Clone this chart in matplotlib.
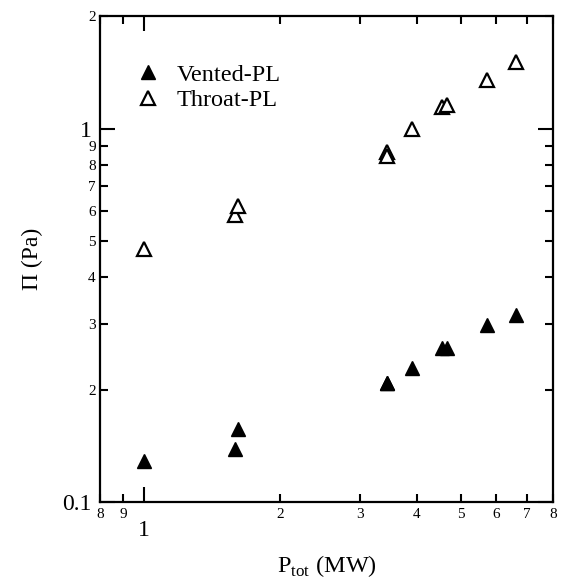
import numpy as np
import matplotlib
matplotlib.use("Agg")
import matplotlib.pyplot as plt
from matplotlib.ticker import FixedLocator, FixedFormatter

plt.rcParams['font.family'] = ['Liberation Serif', 'DejaVu Serif']
plt.rcParams['mathtext.fontset'] = 'custom'
plt.rcParams['mathtext.rm'] = 'Liberation Serif'

# data
p_tot = [1.0, 1.59, 1.61, 3.44, 3.44, 3.91, 4.55, 4.66, 5.72, 6.63]
vented = [0.129, 0.139, 0.157, 0.208, 0.208, 0.228, 0.259, 0.259, 0.298, 0.317]
throat = [0.475, 0.587, 0.62, 0.865, 0.845, 1.0, 1.14, 1.155, 1.35, 1.51]

x_major = [1]
x_major_labels = ["1"]
x_minor = [0.8, 0.9, 2, 3, 4, 5, 6, 7, 8]
x_minor_labels = ["8", "9", "2", "3", "4", "5", "6", "7", "8"]
y_major = [0.1, 1]
y_major_labels = ["0.1", "1"]
y_minor = [0.2, 0.3, 0.4, 0.5, 0.6, 0.7, 0.8, 0.9, 2]
y_minor_labels = ["2", "3", "4", "5", "6", "7", "8", "9", "2"]

fig = plt.figure(figsize=(5.62, 5.79), dpi=100)
ax = fig.add_axes([0.178, 0.133, 0.806, 0.839])

ax.plot(p_tot, vented, linestyle='none', marker='^', ms=9.5, color='black',
        label='Vented-PL')
ax.plot(p_tot, throat, linestyle='none', marker='^', ms=9.5, mfc='white',
        mec='black', mew=1.6, label='Throat-PL')

ax.set_xscale('log')
ax.set_yscale('log')
ax.set_xlim(0.8, 8)
ax.set_ylim(0.1, 2)

ax.xaxis.set_major_locator(FixedLocator(x_major))
ax.xaxis.set_major_formatter(FixedFormatter(x_major_labels))
ax.xaxis.set_minor_locator(FixedLocator(x_minor))
ax.xaxis.set_minor_formatter(FixedFormatter(x_minor_labels))
ax.yaxis.set_major_locator(FixedLocator(y_major))
ax.yaxis.set_major_formatter(FixedFormatter(y_major_labels))
ax.yaxis.set_minor_locator(FixedLocator(y_minor))
ax.yaxis.set_minor_formatter(FixedFormatter(y_minor_labels))

ax.tick_params(which='both', direction='in', top=True, right=True, width=1.5)
ax.tick_params(which='major', length=11, labelsize=17)
ax.tick_params(which='minor', length=5.5, labelsize=11)
ax.tick_params(axis='x', which='major', pad=13)
ax.tick_params(axis='x', which='minor', pad=4)
ax.tick_params(axis='y', which='major', pad=6)
ax.tick_params(axis='y', which='minor', pad=3)

for s in ax.spines.values():
    s.set_linewidth(1.6)

ax.set_xlabel(r'P$_{\rm tot}$ (MW)', fontsize=17.5, labelpad=9)
ax.set_ylabel('Π (Pa)', fontsize=17, labelpad=14)

ax.legend(loc='upper left', bbox_to_anchor=(0.053, 0.922), frameon=False,
          fontsize=17.5, handletextpad=0.55, labelspacing=0.15,
          handlelength=1.2, borderaxespad=0)

fig.savefig('out.png', dpi=100)
